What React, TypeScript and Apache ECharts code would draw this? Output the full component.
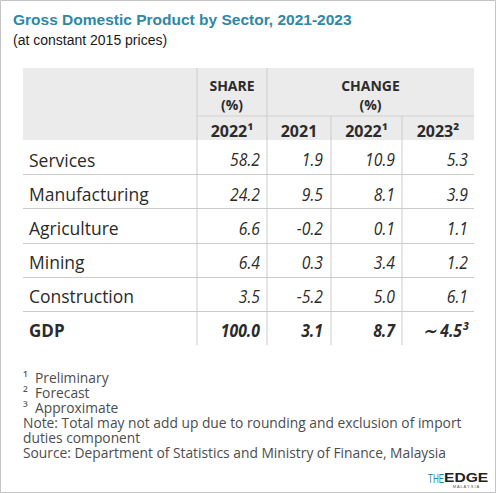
import React, { useEffect, useRef } from "react";
import * as echarts from "echarts";

const sectors = ["Services", "Manufacturing", "Agriculture", "Mining", "Construction", "GDP"];
const share2022 = [58.2, 24.2, 6.6, 6.4, 3.5, 100.0];
const change2021 = [1.9, 9.5, -0.2, 0.3, -5.2, 3.1];
const change2022 = [10.9, 8.1, 0.1, 3.4, 5.0, 8.7];
const change2023 = [5.3, 3.9, 1.1, 1.2, 6.1, 4.5];
const yearHeaders = ["2022¹", "2021", "2022¹", "2023²"];
const groupHeaders = [["SHARE", "(%)"], ["CHANGE", "(%)"]];
const footnotes = [
  "¹\u00a0 Preliminary",
  "²\u00a0 Forecast",
  "³\u00a0 Approximate",
  "Note: Total may not add up due to rounding and exclusion of import",
  "duties component",
  "Source: Department of Statistics and Ministry of Finance, Malaysia",
];
const title = "Gross Domestic Product by Sector, 2021-2023";
const subtitle = "(at constant 2015 prices)";

const W = 496;
const H = 493;
const TEAL = "#2f87a7";
const TEXT = "#2b2b2b";
const LINE = "#cbcbcb";
const FONT = "'Open Sans', 'Noto Sans', sans-serif";

export default function App() {
  const ref = useRef<HTMLDivElement>(null);
  useEffect(() => {
    if (!ref.current) return;
    const chart = echarts.init(ref.current, undefined, { renderer: "svg" });

    const tableL = 23;
    const tableR = 474;
    const headTop = 68;
    const headMid = 116;
    const headBot = 140;
    const rowH = 34.2;
    const tableBot = headBot + rowH * sectors.length;
    const colLines = [197, 267, 331, 402];
    const colCenters = [232, 299, 366.5, 438];
    const colRights = [260, 323, 395, 468];
    const cols = [share2022, change2021, change2022, change2023];

    const els: any[] = [];
    els.push({
      type: "rect",
      shape: { x: 0.5, y: 0.5, width: W - 1, height: H - 1 },
      style: { fill: "#fff", stroke: "#c4c4c4", lineWidth: 1 },
    });
    els.push({
      type: "text",
      x: 13,
      y: 19.5,
      style: { text: title, fill: TEAL, font: "bold 15.5px 'Liberation Sans', Arial, sans-serif", verticalAlign: "middle" },
    });
    els.push({
      type: "text",
      x: 13,
      y: 39.5,
      style: { text: subtitle, fill: "#1a1a1a", font: "14px 'Liberation Sans', Arial, sans-serif", verticalAlign: "middle" },
    });
    // header background
    els.push({
      type: "rect",
      shape: { x: tableL, y: headTop, width: tableR - tableL, height: headBot - headTop },
      style: { fill: "#ebebeb" },
    });
    // header mid line
    els.push({
      type: "line",
      shape: { x1: colLines[0], y1: headMid, x2: tableR, y2: headMid },
      style: { stroke: "#d2d2d2", lineWidth: 1.2 },
    });
    // vertical lines
    colLines.forEach((x, i) => {
      els.push({
        type: "line",
        shape: { x1: x, y1: i < 2 ? headTop : headMid, x2: x, y2: tableBot },
        style: { stroke: LINE, lineWidth: 1 },
      });
    });
    // row dividers
    for (let r = 1; r < sectors.length; r++) {
      const y = Math.round(headBot + rowH * r) + 0.5;
      els.push({
        type: "line",
        shape: { x1: tableL, y1: y, x2: tableR, y2: y },
        style: { stroke: LINE, lineWidth: 1 },
      });
    }
    // group headers
    const groupCenters = [(colLines[0] + colLines[1]) / 2, (colLines[1] + tableR) / 2];
    groupHeaders.forEach((g, i) => {
      g.forEach((t, j) => {
        els.push({
          type: "text",
          x: groupCenters[i],
          y: 85 + j * 19.5,
          style: { text: t, fill: TEXT, font: `bold 14px ${FONT}`, align: "center", verticalAlign: "middle" },
        });
      });
    });
    yearHeaders.forEach((t, i) => {
      els.push({
        type: "text",
        x: colCenters[i],
        y: 131,
        style: { text: t, fill: TEXT, font: `bold 16px ${FONT}`, align: "center", verticalAlign: "middle" },
      });
    });
    // rows
    sectors.forEach((s, r) => {
      const y = headBot + rowH * r + rowH / 2 + 2.5;
      const isTotal = r === sectors.length - 1;
      els.push({
        type: "text",
        x: 29,
        y,
        style: { text: s, fill: TEXT, font: `${isTotal ? "bold 17px" : "17.5px"} ${FONT}`, verticalAlign: "middle" },
      });
      cols.forEach((col, c) => {
        let txt = col[r].toFixed(1);
        if (isTotal && c === 3) txt = "∼ " + txt + "³";
        els.push({
          type: "text",
          x: colRights[c],
          y,
          scaleX: 0.9,
          style: {
            text: txt,
            fill: TEXT,
            font: `italic ${isTotal ? "bold " : ""}17.5px ${FONT}`,
            align: "right",
            verticalAlign: "middle",
          },
        });
      });
    });
    // footnotes
    els.push({
      type: "text",
      x: 23,
      y: 369.5,
      style: {
        text: footnotes.join("\n"),
        fill: "#4d4d4d",
        font: `13.8px ${FONT}`,
        lineHeight: 15,
        verticalAlign: "top",
      },
    });
    // logo
    els.push({
      type: "text",
      x: 428,
      y: 478,
      scaleX: 0.62,
      style: { text: "THE", fill: TEAL, font: "13px 'Liberation Sans Narrow', 'Liberation Sans', sans-serif", verticalAlign: "middle" },
    });
    els.push({
      type: "text",
      x: 444,
      y: 478,
      scaleX: 1.25,
      style: { text: "EDGE", fill: "#222", font: "900 12.5px 'Liberation Sans', Arial, sans-serif", verticalAlign: "middle" },
    });
    els.push({
      type: "text",
      x: 466,
      y: 486,
      style: { text: "M A L A Y S I A", fill: "#555", font: "4px 'Liberation Sans', sans-serif", align: "center", verticalAlign: "middle" },
    });

    chart.setOption({
      animation: false,
      graphic: { elements: els },
    });
    return () => chart.dispose();
  }, []);
  return <div ref={ref} style={{ position: "fixed", left: 0, top: 0, width: W, height: H, background: "#fff" }} />;
}
